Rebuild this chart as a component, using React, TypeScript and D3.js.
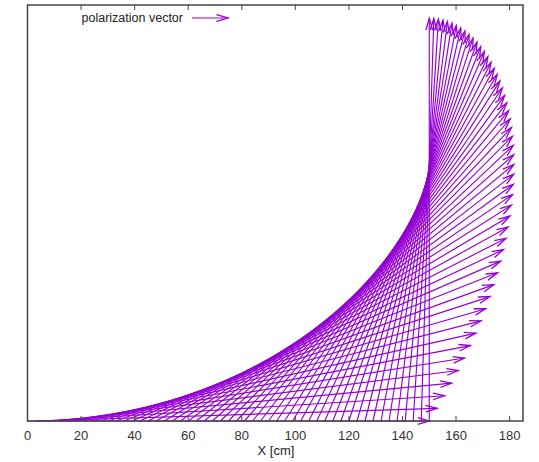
import React from "react";
import * as d3 from "d3";

// Tail positions along the X axis [cm]
const tailX = [0, 3, 6, 9, 12, 15, 18, 21, 24, 27, 30, 33, 36, 39, 42, 45, 48, 51, 54, 57, 60, 63, 66, 69, 72, 75, 78, 81, 84, 87, 90, 93, 96, 99, 102, 105, 108, 111, 114, 117, 120, 123, 126, 129, 132, 135, 138, 141, 144, 147, 150];
// Polarization angle of each vector [deg]
const angleDeg = [0, 1.8, 3.6, 5.4, 7.2, 9, 10.8, 12.6, 14.4, 16.2, 18, 19.8, 21.6, 23.4, 25.2, 27, 28.8, 30.6, 32.4, 34.2, 36, 37.8, 39.6, 41.4, 43.2, 45, 46.8, 48.6, 50.4, 52.2, 54, 55.8, 57.6, 59.4, 61.2, 63, 64.8, 66.6, 68.4, 70.2, 72, 73.8, 75.6, 77.4, 79.2, 81, 82.8, 84.6, 86.4, 88.2, 90];
// Vector length [cm]
const vecLength = [150];
const xTicks = [0, 20, 40, 60, 80, 100, 120, 140, 160, 180];
const xDomain = [0, 185];
const yDomain = [0, 155];

const W = 539;
const H = 462;
const COLOR = "#9400d3";

export default function App() {
  const x = d3.scaleLinear().domain(xDomain).range([27.5, 523]);
  const y = d3.scaleLinear().domain(yDomain).range([421, 5]);
  const L = vecLength[0];

  const headLen = 12;
  const headAng = (16 * Math.PI) / 180;

  const arrow = (x0: number, y0: number, x1: number, y1: number, key: string) => {
    const a = Math.atan2(y1 - y0, x1 - x0);
    const bx1 = x1 - headLen * Math.cos(a - headAng);
    const by1 = y1 - headLen * Math.sin(a - headAng);
    const bx2 = x1 - headLen * Math.cos(a + headAng);
    const by2 = y1 - headLen * Math.sin(a + headAng);
    const line = d3.line();
    return (
      <g key={key}>
        <path d={line([[x0, y0], [x1, y1]]) || ""} stroke={COLOR} strokeWidth={1.15} fill="none" />
        <path d={line([[bx1, by1], [x1, y1], [bx2, by2]]) || ""} stroke={COLOR} strokeWidth={1.3} fill="none" />
      </g>
    );
  };

  const vectors = tailX.map((tx, i) => {
    const th = (angleDeg[i] * Math.PI) / 180;
    const hx = tx + L * Math.cos(th);
    const hy = L * Math.sin(th);
    return arrow(x(tx), y(0), x(hx), y(hy), "v" + i);
  });

  const font = "'Liberation Sans', Arial, Helvetica, sans-serif";
  const x0 = x(xDomain[0]);
  const x1 = x(xDomain[1]);
  const yb = y(yDomain[0]);
  const yt = y(yDomain[1]);

  return (
    <svg width={W} height={H} style={{ position: "absolute", left: 0, top: 0 }} fontFamily={font}>
      <rect x={0} y={0} width={W} height={H} fill="#fff" />
      {vectors}
      {/* ticks */}
      {xTicks.map((t) => (
        <g key={"t" + t}>
          <line x1={x(t)} x2={x(t)} y1={yb} y2={yb - 5} stroke="#444" strokeWidth={1} />
          <line x1={x(t)} x2={x(t)} y1={yt} y2={yt + 5} stroke="#444" strokeWidth={1} />
          <text x={x(t)} y={440} textAnchor="middle" fontSize={13} fill="#333">
            {t}
          </text>
        </g>
      ))}
      {/* border */}
      <rect x={x0} y={yt} width={x1 - x0} height={yb - yt} fill="none" stroke="#444" strokeWidth={1.5} />
      <text x={276} y={455} textAnchor="middle" fontSize={13} fill="#222">
        X [cm]
      </text>
      {/* legend */}
      <text x={183} y={22} textAnchor="end" fontSize={12.5} fill="#222">
        polarization vector
      </text>
      {arrow(192, 18, 228, 18, "legend")}
    </svg>
  );
}
